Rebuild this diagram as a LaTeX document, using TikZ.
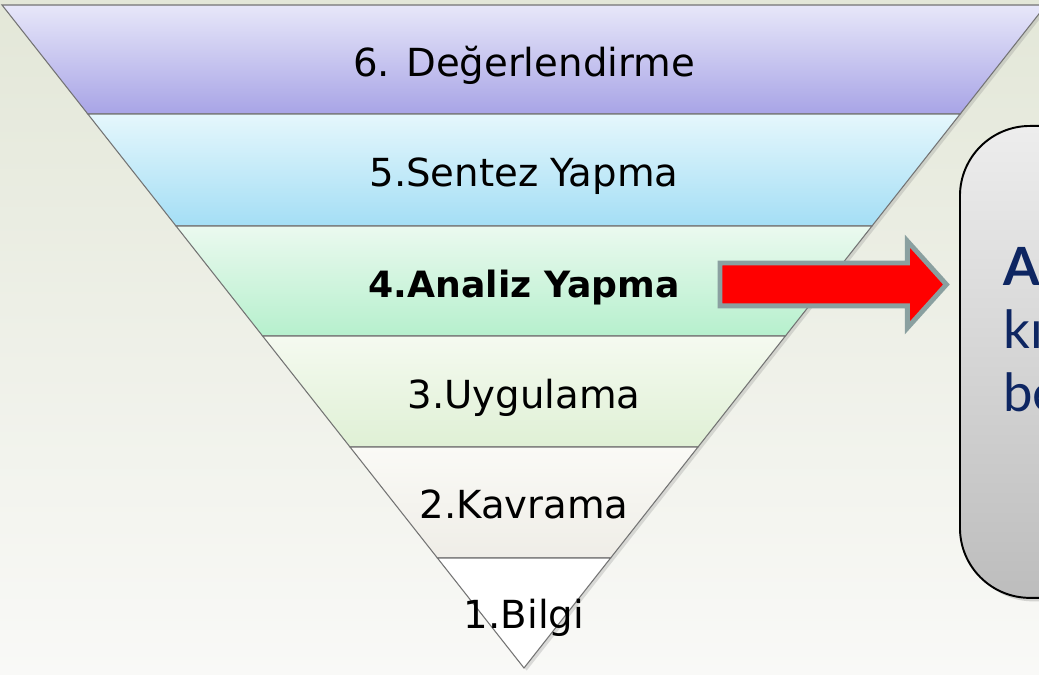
\documentclass[tikz,border=0pt]{standalone}
\usepackage{fontspec}
\usetikzlibrary{shapes.arrows,shadows,positioning}
\newfontfamily\bandfont{DejaVu Sans}
\newfontfamily\notefont{Lato}
\definecolor{bgtop}{RGB}{227,231,216}
\definecolor{bgbot}{RGB}{249,249,247}
\definecolor{sixtop}{RGB}{231,231,249}
\definecolor{sixbot}{RGB}{168,164,230}
\definecolor{fivetop}{RGB}{229,247,252}
\definecolor{fivebot}{RGB}{164,222,245}
\definecolor{fourtop}{RGB}{235,249,239}
\definecolor{fourbot}{RGB}{182,240,205}
\definecolor{threetop}{RGB}{245,250,240}
\definecolor{threebot}{RGB}{223,240,213}
\definecolor{twotop}{RGB}{250,250,246}
\definecolor{twobot}{RGB}{239,237,231}
\definecolor{arrowrim}{RGB}{138,160,160}
\definecolor{notenavy}{RGB}{14,38,98}
\tikzset{
	band/.style={draw=black!55, line width=0.6pt},
	bandlabel/.style={font=\bandfont\fontsize{22}{26}\selectfont, anchor=base, inner sep=0pt},
	bigarrow/.style={single arrow, fill=red, draw=arrowrim, line width=2.8pt,
		inner xsep=0pt, inner ysep=0.38cm, minimum width=1.64cm, minimum height=4.53cm,
		single arrow head extend=0.44cm, single arrow tip angle=96},
	notebox/.style={draw=black, line width=1.1pt, rounded corners=1.4cm,
		top color=black!7, bottom color=black!26,
		drop shadow={opacity=0.3, shadow xshift=2pt, shadow yshift=-2pt}},
	notetext/.style={font=\notefont\fontsize{30}{36}\selectfont, text=notenavy,
		align=left, inner sep=0pt}
}
\begin{document}
\begin{tikzpicture}[x=0.02cm, y=-0.02cm]
			%%%%% START %%%%%
			\useasboundingbox (0,0) rectangle (1039,675);
			\clip (0,0) rectangle (1039,675);
			\shade[top color=bgtop, bottom color=bgbot] (0,0) rectangle (1039,675);
			
			% pyramid shadow
			\path[fill=white, drop shadow={opacity=0.25, shadow xshift=1.5pt, shadow yshift=-1.5pt}] (2,5) -- (1046,5) -- (524,668) -- cycle;
			
			% bands, top to bottom
			\shade[band, top color=sixtop, bottom color=sixbot] (2,5) -- (1046,5) -- (960.2,114) -- (87.8,114) -- cycle;
			\shade[band, top color=fivetop, bottom color=fivebot] (87.8,114) -- (960.2,114) -- (872,226) -- (176,226) -- cycle;
			\shade[band, top color=fourtop, bottom color=fourbot] (176,226) -- (872,226) -- (785.4,336) -- (262.6,336) -- cycle;
			\shade[band, top color=threetop, bottom color=threebot] (262.6,336) -- (785.4,336) -- (698,447) -- (350,447) -- cycle;
			\shade[band, top color=twotop, bottom color=twobot] (350,447) -- (698,447) -- (610.6,558) -- (437.4,558) -- cycle;
			\draw[band, fill=white] (437.4,558) -- (610.6,558) -- (524,668) -- cycle;
			
			\node[bandlabel] (l6) at (524,77) {6. Değerlendirme};
			\node[bandlabel] (l5) at (524,187) {5.Sentez Yapma};
			\node[bandlabel, font=\bandfont\bfseries\fontsize{20.6}{24}\selectfont] (l4) at (524,298) {4.Analiz Yapma};
			\node[bandlabel] (l3) at (524,409) {3.Uygulama};
			\node[bandlabel] (l2) at (524,519) {2.Kavrama};
			\node[bandlabel] (l1) at (524,629) {1.Bilgi};
			
			% note on the right
			\node[notebox, anchor=north west, minimum width=5cm, minimum height=9.44cm] (note) at (959,125) {};
			\node[notetext, anchor=north west] (notetxt) at (1003,247) {\textbf{A}\\kı\\be};
			
			\node[bigarrow, anchor=tail] (arr) at (717.5,284.5) {};
			%%%%% END %%%%%
\end{tikzpicture}
\end{document}
